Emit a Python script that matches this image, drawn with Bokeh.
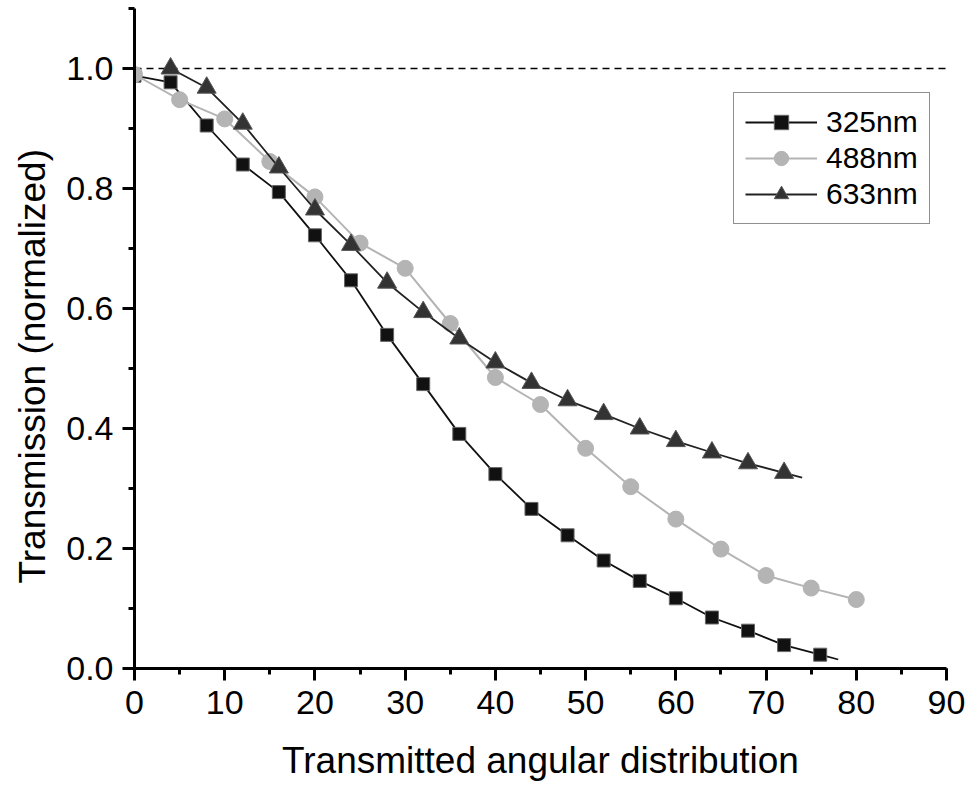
from bokeh.plotting import figure
from bokeh.models import (Span, Legend, LegendItem, SingleIntervalTicker,
                          PrintfTickFormatter, Title, Range1d)
from bokeh.embed import file_html
from bokeh.resources import INLINE

# ---------------- data ----------------
angle_325 = [0, 4, 8, 12, 16, 20, 24, 28, 32, 36, 40, 44, 48, 52, 56, 60, 64, 68, 72, 76]
trans_325 = [0.988, 0.977, 0.905, 0.840, 0.794, 0.722, 0.647, 0.556, 0.474, 0.391,
             0.324, 0.266, 0.222, 0.180, 0.146, 0.117, 0.085, 0.063, 0.039, 0.023]

angle_488 = [0, 5, 10, 15, 20, 25, 30, 35, 40, 45, 50, 55, 60, 65, 70, 75, 80]
trans_488 = [0.990, 0.948, 0.916, 0.845, 0.786, 0.709, 0.667, 0.575, 0.485, 0.440,
             0.367, 0.303, 0.249, 0.199, 0.155, 0.134, 0.115]

angle_633 = [4, 8, 12, 16, 20, 24, 28, 32, 36, 40, 44, 48, 52, 56, 60, 64, 68, 72]
trans_633 = [1.000, 0.968, 0.908, 0.835, 0.765, 0.706, 0.643, 0.594, 0.550, 0.510,
             0.476, 0.447, 0.424, 0.400, 0.379, 0.360, 0.342, 0.326]

series_labels = ["325nm", "488nm", "633nm"]
reference_level = 1.0
x_ticks_interval = 10
y_ticks_interval = 0.2

FONT = "Liberation Sans"

p = figure(frame_width=812, frame_height=660,
           min_border_left=133, min_border_right=22, min_border_top=8, min_border_bottom=60,
           x_range=Range1d(0, 90), y_range=Range1d(0, 1.1),
           output_backend="svg", toolbar_location=None,
           background_fill_color="white", border_fill_color="white",
           outline_line_color=None)
p.grid.visible = False

# reference dashed line at 1.0
p.add_layout(Span(location=reference_level, dimension="width", line_color="black",
                  line_width=1.5, line_dash="7 5", level="underlay"))


def tail(xs, ys):
    # short continuation of the connecting line past the last point (as drawn in the reference)
    dx = (xs[-1] - xs[-2]) / 2
    dy = (ys[-1] - ys[-2]) / 2
    return [xs[-1], xs[-1] + dx], [ys[-1], ys[-1] + dy]


# 325 nm
l325 = p.line(angle_325, trans_325, line_color="#111111", line_width=1.8)
tx, ty = tail(angle_325, trans_325)
p.line(tx, ty, line_color="#111111", line_width=1.8)
m325 = p.scatter(angle_325, trans_325, marker="square", size=13,
                 fill_color="#111111", line_color="#666666", line_width=1)

# 488 nm
l488 = p.line(angle_488, trans_488, line_color="#b4b4b4", line_width=2)
m488 = p.scatter(angle_488, trans_488, marker="circle", size=16,
                 fill_color="#b4b4b4", line_color="#b4b4b4", line_width=1)

# 633 nm
l633 = p.line(angle_633, trans_633, line_color="#222222", line_width=1.8)
tx, ty = tail(angle_633, trans_633)
p.line(tx, ty, line_color="#222222", line_width=1.8)
m633 = p.scatter(angle_633, trans_633, marker="triangle", size=19,
                 fill_color="#333333", line_color="#555555", line_width=1)

# axes
xa = p.xaxis[0]
ya = p.yaxis[0]
xa.ticker = SingleIntervalTicker(interval=x_ticks_interval, num_minor_ticks=2)
ya.ticker = SingleIntervalTicker(interval=y_ticks_interval, num_minor_ticks=2)
xa.formatter = PrintfTickFormatter(format="%d")
ya.formatter = PrintfTickFormatter(format="%.1f")
for ax in (xa, ya):
    ax.axis_line_width = 3
    ax.axis_line_color = "black"
    ax.major_tick_line_width = 3
    ax.minor_tick_line_width = 3
    ax.major_tick_line_color = "black"
    ax.minor_tick_line_color = "black"
    ax.major_tick_out = 12
    ax.major_tick_in = 0
    ax.minor_tick_out = 6
    ax.minor_tick_in = 0
    ax.major_label_text_font = FONT
    ax.major_label_text_font_size = "34px"
    ax.major_label_text_color = "black"
    ax.axis_label_text_font = FONT
    ax.axis_label_text_font_size = "37px"
    ax.axis_label_text_font_style = "normal"
    ax.axis_label_text_color = "black"

xa.major_label_standoff = 10
xa.axis_label = "Transmitted angular distribution"
xa.axis_label_standoff = 23
ya.major_label_standoff = 9

# y axis title (placed slightly below centre as in the reference)
ytitle = Title(text="Transmission (normalized)", align="left", offset=85,
               vertical_align="middle", standoff=20,
               text_font=FONT, text_font_size="37px", text_font_style="normal",
               text_color="black")
p.add_layout(ytitle, "left")

legend = Legend(items=[LegendItem(label=series_labels[0], renderers=[l325, m325]),
                       LegendItem(label=series_labels[1], renderers=[l488, m488]),
                       LegendItem(label=series_labels[2], renderers=[l633, m633])],
                location=(599, 444))
legend.label_text_font = FONT
legend.label_text_font_size = "30px"
legend.label_text_color = "black"
legend.glyph_width = 72
legend.glyph_height = 36
legend.label_height = 34
legend.spacing = 0
legend.padding = 11
legend.margin = 0
legend.label_standoff = 9
legend.border_line_color = "#222222"
legend.border_line_width = 1.5
legend.background_fill_color = "white"
legend.background_fill_alpha = 1
p.add_layout(legend)

open("out.html", "w").write(file_html(p, INLINE))
